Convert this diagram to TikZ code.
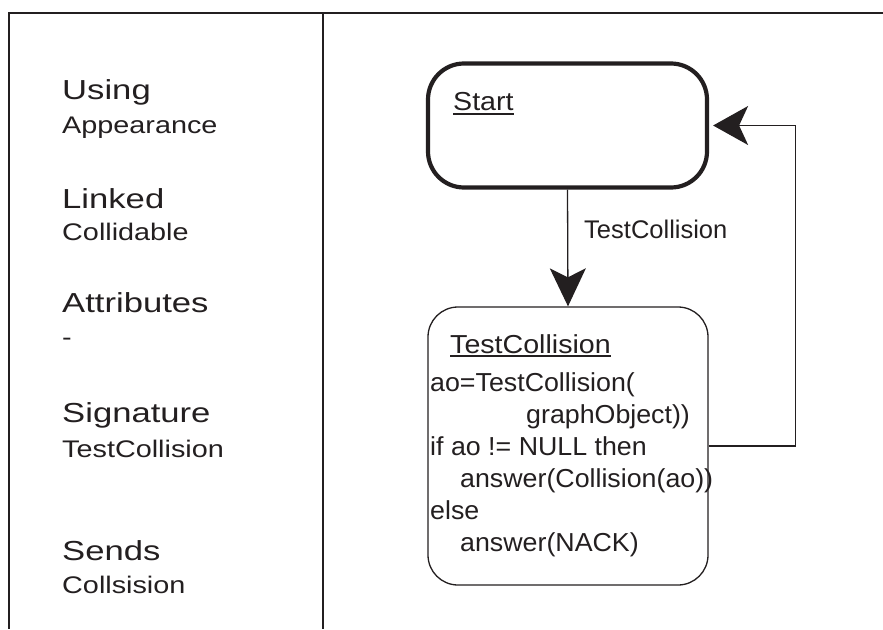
\documentclass[tikz,border=0pt]{standalone}
\usepackage{fontspec}
\setmainfont{Liberation Sans}
\newfontfamily\sideheadfont{Liberation Sans}[FakeStretch=1.26]
\newfontfamily\sidesubfont{Liberation Sans}[FakeStretch=1.20]
\newfontfamily\statefont{Liberation Sans}[FakeStretch=1.10]
\newfontfamily\bodyfont{Liberation Sans}[FakeStretch=1.03]
\usetikzlibrary{arrows.meta}
\definecolor{ink}{HTML}{231F20}
\tikzset{
  frameline/.style={draw=ink, line width=2pt},
  sidehead/.style={anchor=base west, inner sep=0pt, text=ink,
    font=\sideheadfont\fontsize{27.5}{30}\selectfont},
  sidesub/.style={anchor=base west, inner sep=0pt, text=ink,
    font=\sidesubfont\fontsize{24}{28}\selectfont},
  startbox/.style={draw=ink, line width=4.2pt, rounded corners=36pt,
    minimum width=279pt, minimum height=124pt, inner sep=0pt},
  statebox/.style={draw=ink, line width=1.3pt, rounded corners=30pt,
    minimum width=280pt, minimum height=278pt, inner sep=0pt},
  statename/.style={anchor=base west, inner sep=0pt, text=ink,
    font=\statefont\fontsize{26}{30}\selectfont},
  uline/.style={draw=ink, line width=1.2pt},
  conn/.style={draw=ink, line width=1.3pt},
  translabel/.style={anchor=base west, inner sep=0pt, text=ink,
    font=\fontsize{25.5}{30}\selectfont},
  codeline/.style={anchor=base west, inner sep=0pt, text=ink,
    font=\bodyfont\fontsize{26}{30}\selectfont},
}
\begin{document}
\begin{tikzpicture}[x=1pt, y=-1pt]
  \useasboundingbox (0,0) rectangle (883,629);

  % table frame: top rule, left rule and column divider
  \draw[frameline] (883,12.5) -- (9,12.5) -- (9,629);
  \draw[frameline] (323,12.5) -- (323,629);

  % left column: properties of the object
  \node[sidehead] (using)   at (62,99)  {Using};
  \node[sidesub]  (usingv)  at (62,133) {Appearance};
  \node[sidehead] (linked)  at (62,208) {Linked};
  \node[sidesub]  (linkedv) at (62,240) {Collidable};
  \node[sidehead] (attr)    at (62,312) {Attributes};
  \node[sidesub]  (attrv)   at (62,345) {-};
  \node[sidehead] (sig)     at (62,422) {Signature};
  \node[sidesub]  (sigv)    at (62,457) {TestCollision};
  \node[sidehead] (sends)   at (62,560) {Sends};
  \node[sidesub]  (sendsv)  at (62,593) {Collsision};

  % state machine
  \node[startbox] (start) at (567.5,125.5) {};
  \node[statename] (startname) at (453,110) {Start};
  \draw[uline] ([yshift=-3.5pt]startname.south west) -- ([yshift=-3.5pt]startname.south east);

  \node[statebox] (tc) at (568,446) {};
  \node[statename] (tcname) at (450,353) {TestCollision};
  \draw[uline] ([yshift=-2.5pt]tcname.south west) -- ([yshift=-2.5pt]tcname.south east);

  % body of the TestCollision state
  \node[codeline] (code1) at (430,391.5) {ao=TestCollision(};
  \node[codeline] (code2) at (526,423.4) {graphObject))};
  \node[codeline] (code3) at (430,455.3) {if ao != NULL then};
  \node[codeline] (code4) at (460,487.2) {answer(Collision(ao))};
  \node[codeline] (code5) at (430,519.1) {else};
  \node[codeline] (code6) at (460,551)   {answer(NACK)};

  % transitions
  \draw[conn, -{Stealth[length=38pt, width=36pt, inset=9pt]}]
    (start.south) -- (tc.north);
  \node[translabel] (tclabel) at (584,238) {TestCollision};

  \draw[conn, -{Stealth[length=35pt, width=39pt, inset=9pt]}]
    (tc.east) -- ++(87,0) |- ([xshift=4pt]start.east);
\end{tikzpicture}
\end{document}
